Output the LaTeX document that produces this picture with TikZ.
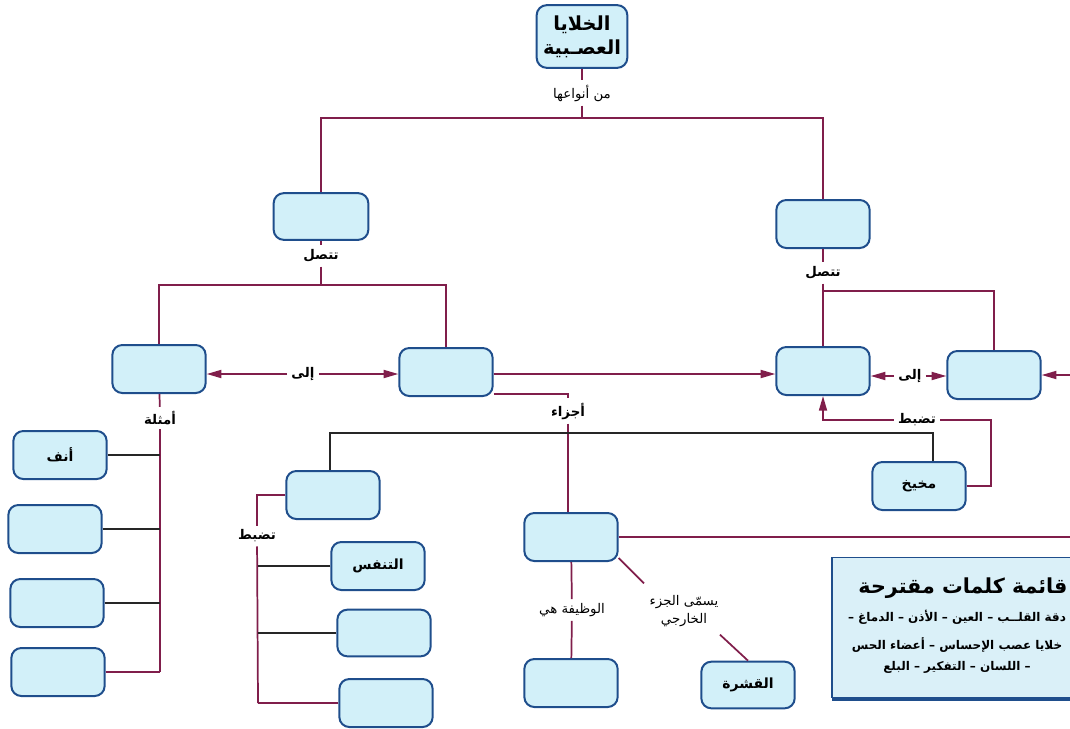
\documentclass[tikz,border=0pt]{standalone}
\usepackage{fontspec}
\usetikzlibrary{arrows.meta,shadows}
\TeXXeTstate=1
\newfontfamily\arfont[Script=Arabic]{DejaVu Sans}
\newcommand{\artxt}[1]{{\arfont\beginR #1\endR}}

\definecolor{cellfill}{RGB}{210,240,249}
\definecolor{cellline}{RGB}{31,78,140}
\definecolor{linkred}{RGB}{128,30,75}
\definecolor{listfill}{RGB}{218,240,248}

\begin{document}
\begin{tikzpicture}[x=0.75pt,y=-0.75pt,
  cell/.style={draw=cellline, fill=cellfill, line width=1.5pt, rounded corners=7.5pt,
    minimum width=70pt, minimum height=36pt, inner sep=0pt,
    font=\arfont\bfseries\fontsize{10.5}{12}\selectfont},
  lbl/.style={inner sep=3pt, font=\arfont\fontsize{10}{11}\selectfont},
  blbl/.style={lbl, font=\arfont\bfseries\fontsize{10}{11}\selectfont},
  link/.style={draw=linkred, line width=1.3pt},
  plain/.style={draw=black!85, line width=1.2pt},
  tip/.style={-{Triangle[length=11pt,width=6pt]}}
]
\useasboundingbox (0,0) rectangle (1070,728);

% ---- boxes ----
\node[cell, minimum width=68pt, minimum height=47pt, align=center,
  font=\arfont\bfseries\fontsize{14.5}{18}\selectfont] (b1) at (582,36.5)
  {\artxt{الخلايا}\\\artxt{العصـبية}};
\node[cell, minimum width=71pt, minimum height=35pt] (b2) at (321,216.5) {};
\node[cell] (b3) at (823,224) {};
\node[cell] (b4) at (159,369) {};
\node[cell] (b5) at (446,372) {};
\node[cell] (b6) at (823,371) {};
\node[cell] (b7) at (994,375) {};
\node[cell] (b8) at (333,495) {};
\node[cell] (b9) at (571,537) {};
\node[cell] (b10) at (919,486) {\artxt{مخيخ}};
\node[cell] (b11) at (571,683) {};
\node[cell, minimum height=35pt] (b12) at (748,685) {\artxt{القشرة}};

\node[cell] (L1) at (60,455) {\artxt{أنف}};
\node[cell] (L2) at (55,529) {};
\node[cell] (L3) at (57,603) {};
\node[cell] (L4) at (58,672) {};

\node[cell] (R1) at (378,566) {\artxt{التنفس}};
\node[cell, minimum height=35pt] (R2) at (384,633) {};
\node[cell] (R3) at (386,703) {};

% ---- link labels ----
\node[lbl] (t1) at (582,93) {\artxt{من أنواعها}};
\node[blbl] (t2) at (321,256) {\artxt{تتصل}};
\node[blbl] (t3) at (823,273) {\artxt{تتصل}};
\node[blbl] (i1) at (303,374) {\artxt{إلى}};
\node[blbl] (i2) at (910,376) {\artxt{إلى}};
\node[blbl] (t4) at (568,411) {\artxt{أجزاء}};
\node[blbl] (t7) at (160,418) {\artxt{أمثلة}};
\node[blbl] (t8) at (257,536) {\artxt{تضبط}};
\node[blbl] (t9) at (917,420) {\artxt{تضبط}};
\node[lbl] (t5) at (572,610) {\artxt{الوظيفة هي}};
\node[lbl, align=center] (t6) at (684,611) {\artxt{يسمّى الجزء}\\[2pt]\artxt{الخارجي}};

% ---- junction points ----
\coordinate (j1) at (582,118);
\coordinate (j2) at (321,285);
\coordinate (j3) at (823,291);
\coordinate (j4) at (330,433);
\coordinate (j5) at (933,433);
\coordinate (j6) at (160,672);
\coordinate (j7) at (258,703);
\coordinate (k1) at (991,420);
\coordinate (e1) at (1080,375);
\coordinate (e2) at (1080,537);

% ---- connectors ----
\draw[link] (b1) -- (t1);
\draw[link] (t1) -- (j1);
\draw[link] (b2) |- (j1) -| (b3);

\draw[link] (b2) -- (t2);
\draw[link] (t2) -- (j2);
\draw[link] (b4) |- (j2) -| (b5);

\draw[link] (b3) -- (t3);
\draw[link] (t3) -- (b6);
\draw[link] (j3) -| (b7);

\draw[link, tip] (i1) -- (i1 -| b4.east);
\draw[link, tip] (i1) -- (i1 -| b5.west);
\draw[link, tip] ([yshift=-1.5pt]b5.east) -- ([yshift=-1.5pt]b5.east -| b6.west);
\draw[link, tip] (i2) -- (i2 -| b6.east);
\draw[link, tip] (i2) -- (i2 -| b7.west);
\draw[link, tip] (e1) -- (e1 -| b7.east);

\draw[link] ([yshift=2pt]b5.south east) -| (t4);
\draw[link] (t4) -- (t4 |- b9.north);

\draw[plain] (j4 |- b8.north) -- (j4) -- (j5) -- (j5 |- b10.north);

\draw[link] (b10.east) -| (k1) -- (t9);
\draw[link, tip] (t9) -| (b6.south);

\draw[link] (b9.east) -- (b9.east -| e2);
\draw[link] (b9) -- (t5);
\draw[link] (t5) -- (b11);
\draw[link] ([yshift=3pt]b9.south east) -- ([xshift=-1pt,yshift=6pt]t6.north west);
\draw[link] ([xshift=-2pt,yshift=-3pt]t6.south east) -- (b12.north);

\draw[link] (b4) -- (t7);
\draw[link] (t7) -- (j6);
\draw[plain] (L1.east) -- (L1.east -| j6);
\draw[plain] (L2.east) -- (L2.east -| j6);
\draw[plain] (L3.east) -- (L3.east -| j6);
\draw[link] (L4.east) -- (L4.east -| j6);

\draw[link] (b8.west) -| (t8);
\draw[link] (t8) -- (j7);
\draw[plain] (R1.west) -- (R1.west -| j7);
\draw[plain] (R2.west) -- (R2.west -| j7);
\draw[link] (R3.west) -- (R3.west -| j7);

% ---- word list panel ----
\node[draw=cellline, fill=listfill, line width=1pt, minimum width=195pt, minimum height=105pt,
  drop shadow={shadow xshift=0pt, shadow yshift=-2.5pt, fill=cellline, opacity=1}]
  (wl) at (962,627.5) {};
\node[font=\arfont\bfseries\fontsize{15.5}{17}\selectfont] (wt) at (963,588) {\artxt{قائمة كلمات مقترحة}};
\node[font=\arfont\bfseries\fontsize{9}{10}\selectfont] (w1) at (957,617) {\artxt{دقة القلــب – العين – الأذن – الدماغ –}};
\node[font=\arfont\bfseries\fontsize{9}{10}\selectfont] (w2) at (957,645) {\artxt{خلايا عصب الإحساس – أعضاء الحس}};
\node[font=\arfont\bfseries\fontsize{9}{10}\selectfont] (w3) at (957,667) {\artxt{– اللسان – التفكير – البلع}};
\end{tikzpicture}
\end{document}
